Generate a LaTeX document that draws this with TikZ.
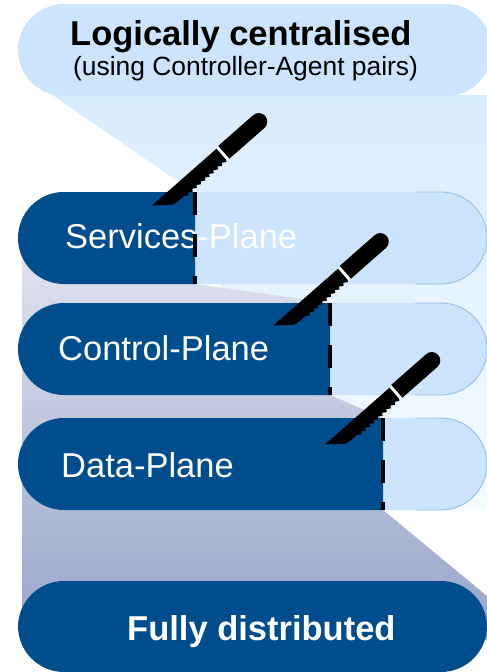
\documentclass[tikz,border=0pt]{standalone}
\usepackage{fontspec}
\setmainfont{Liberation Sans}

\definecolor{planedark}{RGB}{0,77,141}
\definecolor{planelight}{RGB}{204,228,253}
\definecolor{rimblue}{RGB}{152,192,230}
\definecolor{beamtop}{RGB}{216,236,255}
\definecolor{beambot}{RGB}{246,251,255}
\definecolor{graytop}{RGB}{224,226,237}
\definecolor{graybot}{RGB}{150,164,202}

\tikzset{
  % serrated knife, tip at the origin, blade along +x
  knife/.pic={
    \fill[black] (0,-7.5) -- (86,-7.5) -- (86,6.5)
      \foreach \k in {0,...,9}{ -- ({84.5-5.6*\k},9) -- ({80.4-5.6*\k},6.5) }
      -- (26,6.5) .. controls (20,6.5) and (17,6) .. (15,5)
      -- (0,-7.5) -- cycle;
    \fill[white] (86,-7.5) rectangle (89,8);
    \fill[black] (89,-8.5) -- (135.5,-8.5)
      arc[start angle=90, end angle=-90, radius=8.5pt] -- (89,8.5) -- cycle;
  },
  pill/.style={rounded corners=46pt},
  cutline/.style={black, line width=4pt, dash pattern=on 23pt off 19pt},
  rim/.style={draw=rimblue, line width=0.9pt},
  planetext/.style={text=white, inner sep=0pt, anchor=base west,
    font=\fontsize{34.5}{40}\selectfont},
}

\begin{document}
\begin{tikzpicture}[x=1pt,y=-1pt]
  \path[use as bounding box] (0,0) rectangle (487,672);
  \begin{scope}
  \clip (0,0) rectangle (487,672);

  % light beam falling from the centralised box (banded vertical gradient)
  \begin{scope}
    \clip (52,95) -- (487,95) -- (487,510) -- (383,510) -- (195,250) -- (195,193) -- cycle;
    \foreach \i in {0,...,83} {
      \pgfmathtruncatemacro\p{100*\i/83}
      \fill[beambot!\p!beamtop] (0,{95+5*\i}) rectangle (487,{101+5*\i});
    }
  \end{scope}

  % greyish beam rising from the distributed base
  \begin{scope}
    \clip (22,250) -- (195,250) -- (195,284) -- (330,303) -- (330,395)
      -- (383,418) -- (383,510) -- (487,596) -- (487,640) -- (22,640) -- cycle;
    \foreach \i in {0,...,78} {
      \pgfmathtruncatemacro\p{100*\i/78}
      \fill[graybot!\p!graytop] (0,{250+5*\i}) rectangle (487,{256+5*\i});
    }
  \end{scope}

  % logically centralised box, its right end cut by the page edge
  \fill[planelight] (64,4) -- (446,4)
    arc[start angle=90, end angle=27, radius=46pt] -- (487,71)
    arc[start angle=-27, end angle=-90, radius=46pt] -- (64,96)
    arc[start angle=-90, end angle=-270, radius=46pt] -- cycle;
  \node[inner sep=0pt, anchor=base west, font=\fontsize{34.5}{40}\selectfont\bfseries]
    (title) at (70,45) {Logically centralised};
  \node[inner sep=0pt, anchor=base west, font=\fontsize{26.4}{30}\selectfont]
    (subtitle) at (73,75) {(using Controller-Agent pairs)};

  % services plane
  \fill[planelight, pill] (18,192) rectangle (487,284);
  \begin{scope}
    \clip (0,180) rectangle (195,300);
    \fill[planedark, pill] (18,192) rectangle (487,284);
  \end{scope}
  \path[rim] (415,192) -- (441,192) arc[start angle=90, end angle=-90, radius=46pt] -- (415,284);

  % control plane
  \fill[planelight, pill] (18,303) rectangle (487,395);
  \begin{scope}
    \clip (0,290) rectangle (330,410);
    \fill[planedark, pill] (18,303) rectangle (487,395);
  \end{scope}
  \path[rim] (415,303) -- (441,303) arc[start angle=90, end angle=-90, radius=46pt] -- (415,395);

  % data plane
  \fill[planelight, pill] (18,418) rectangle (487,510);
  \begin{scope}
    \clip (0,405) rectangle (383,525);
    \fill[planedark, pill] (18,418) rectangle (487,510);
  \end{scope}
  \path[rim] (415,418) -- (441,418) arc[start angle=90, end angle=-90, radius=46pt] -- (415,510);

  % fully distributed base
  \fill[planedark, pill] (18,581) rectangle (487,672);

  \node[planetext] (services) at (65,248) {Services-Plane};
  \node[planetext] (control) at (58,360) {Control-Plane};
  \node[planetext] (data) at (61,477) {Data-Plane};
  \node[planetext, font=\fontsize{34.5}{40}\selectfont\bfseries]
    (distributed) at (127,640) {Fully distributed};

  % cut lines
  \draw[cutline] (195,192) -- (195,284);
  \draw[cutline] (330,303) -- (330,395);
  \draw[cutline] (383,418) -- (383,510);

  % knives
  \pic[rotate=41.3] at (157,211) {knife};
  \pic[rotate=41.3] at (278.5,331) {knife};
  \pic[rotate=41.3] at (330,450) {knife};
  \end{scope}
  % page frame (invisible)
  \path (0,0) rectangle (487,672);
\end{tikzpicture}
\end{document}
